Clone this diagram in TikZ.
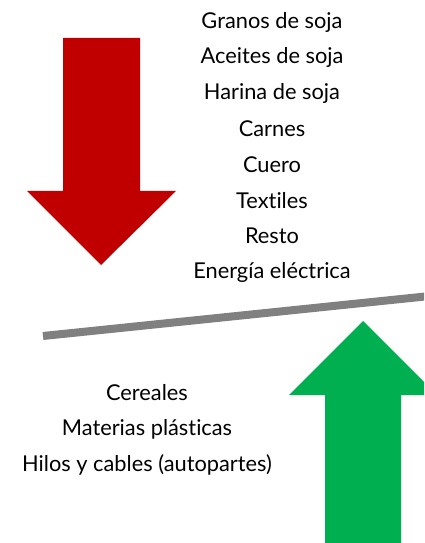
\documentclass[tikz,border=0pt]{standalone}
\usepackage{fontspec}
\setmainfont{Lato}[Ligatures=CommonOff]
\definecolor{darkred}{HTML}{C00000}
\definecolor{brightgreen}{HTML}{00B050}
\definecolor{midgray}{HTML}{808080}

\begin{document}
\begin{tikzpicture}[x=0.025cm,y=-0.025cm,every node/.style={font=\fontsize{15.5}{18}\selectfont,inner sep=0pt}]
\useasboundingbox (0,0) rectangle (424,543);
\clip (0,0) rectangle (424,543);
% flechas
\fill [darkred] (63,38) -- (140,38) -- (140,191) -- (176,191) -- (101,265) -- (27,191) -- (63,191) -- cycle;
\fill [brightgreen] (325,543) -- (401,543) -- (401,395) -- (437,395) -- (363,321) -- (289,395) -- (325,395) -- cycle;
\draw [midgray,line width=8*0.025cm] (43,336) -- (430,296);
% exportaciones que bajan
\path (272,22) node (granos) {Granos de soja};
\path (272,57.7) node (aceites) {Aceites de soja};
\path (272,93.4) node (harina) {Harina de soja};
\path (272,129.1) node (carnes) {Carnes};
\path (272,164.8) node (cuero) {Cuero};
\path (272,200.5) node (textiles) {Textiles};
\path (272,236.2) node (resto) {Resto};
\path (272,272) node (energia) {Energía eléctrica};
% exportaciones que suben
\path (147,393) node (cereales) {Cereales};
\path (147,429) node (plasticas) {Materias plásticas};
\path (147,465) node (hilos) {Hilos y cables (autopartes)};
\end{tikzpicture}
\end{document}
